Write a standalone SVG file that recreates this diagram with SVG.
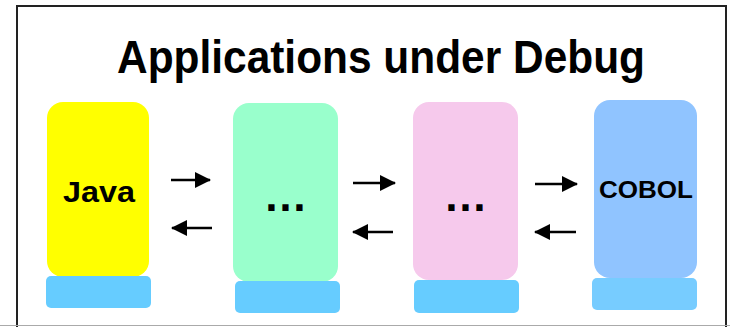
<svg xmlns="http://www.w3.org/2000/svg" width="730" height="327" viewBox="0 0 730 327">
<style>
.t{font-family:"Liberation Sans",Arial,sans-serif;font-weight:bold;fill:#000;text-anchor:middle}
.c{stroke:#000;stroke-width:2.4;fill:none}
.base{fill:#66ccff}
</style>
<defs>
<marker id="ah" viewBox="0 0 16 16" refX="15" refY="8" markerWidth="16" markerHeight="16" markerUnits="userSpaceOnUse" orient="auto">
<path d="M0,0 L16,8 L0,16 Z" fill="#000"/>
</marker>
</defs>
<rect width="730" height="327" fill="#fff"/>
<rect x="17" y="6" width="709" height="330" fill="none" stroke="#222" stroke-width="2"/>
<line x1="0" y1="325.5" x2="730" y2="325.5" stroke="#aaa" stroke-width="1"/>
<text class="t" x="381" y="73" font-size="46" textLength="528" lengthAdjust="spacingAndGlyphs">Applications under Debug</text>
<g id="java">
<rect x="47" y="102" width="102" height="175" rx="16" fill="#ffff00"/>
<rect class="base" x="46" y="276" width="105" height="32" rx="5"/>
<text class="t" x="99" y="202" font-size="29" textLength="72" lengthAdjust="spacingAndGlyphs">Java</text>
</g>
<g id="app2">
<rect x="233" y="103" width="105" height="179" rx="16" fill="#99ffcc"/>
<rect class="base" x="235" y="281" width="105" height="32" rx="5"/>
<text class="t" x="285.5" y="211" font-size="44">…</text>
</g>
<g id="app3">
<rect x="413" y="102" width="105" height="178" rx="16" fill="#f6c9ec"/>
<rect class="base" x="414" y="280" width="105" height="33" rx="5"/>
<text class="t" x="465.5" y="211" font-size="44">…</text>
</g>
<g id="cobol">
<rect x="594" y="100" width="103" height="178" rx="16" fill="#90c4ff"/>
<rect x="592" y="278" width="105" height="32" rx="5" fill="#77ccff"/>
<text class="t" x="646" y="198" font-size="23" textLength="94" lengthAdjust="spacingAndGlyphs">COBOL</text>
</g>
<g id="connectors">
<line class="c" x1="171" y1="180" x2="210" y2="180" marker-end="url(#ah)"/>
<line class="c" x1="212" y1="228" x2="172" y2="228" marker-end="url(#ah)"/>
<line class="c" x1="353" y1="183" x2="395" y2="183" marker-end="url(#ah)"/>
<line class="c" x1="393" y1="232" x2="353" y2="232" marker-end="url(#ah)"/>
<line class="c" x1="535" y1="184" x2="577" y2="184" marker-end="url(#ah)"/>
<line class="c" x1="576" y1="232" x2="535" y2="232" marker-end="url(#ah)"/>
</g>
</svg>
